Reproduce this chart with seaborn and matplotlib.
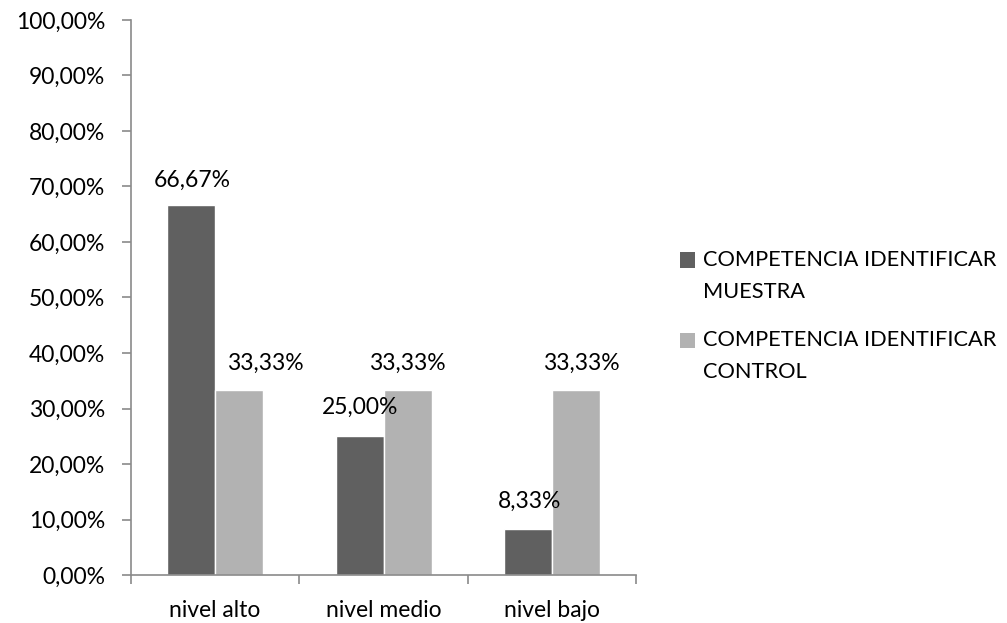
import matplotlib
matplotlib.use("Agg")
import matplotlib.pyplot as plt
import seaborn as sns
import pandas as pd
from matplotlib.patches import Rectangle
from matplotlib.ticker import FuncFormatter, FixedLocator

categories = ["nivel alto", "nivel medio", "nivel bajo"]
series_names = ["COMPETENCIA IDENTIFICAR\nMUESTRA", "COMPETENCIA IDENTIFICAR\nCONTROL"]
muestra = [66.67, 25.00, 8.33]
control = [33.33, 33.33, 33.33]
y_ticks = [0, 10, 20, 30, 40, 50, 60, 70, 80, 90, 100]

df = pd.DataFrame({
    "cat": categories * 2,
    "serie": [series_names[0]] * 3 + [series_names[1]] * 3,
    "val": muestra + control,
})

sns.set_theme(style="white")
plt.rcParams["font.family"] = ["Lato", "DejaVu Sans"]

FS = 16.5
W, H = 1007, 623
colors = ["#606060", "#b2b2b2"]
fig = plt.figure(figsize=(W / 100, H / 100), dpi=100)
ax = fig.add_axes([0.130, 0.077, 0.502, 0.891])

sns.barplot(data=df, x="cat", y="val", hue="serie", order=categories,
            hue_order=series_names, palette=colors, width=0.57, ax=ax,
            saturation=1, errorbar=None, legend=False)

ax.set_xlim(-0.5, 2.5)
ax.set_ylim(0, 100)
ax.set_xlabel("")
ax.set_ylabel("")

fmt = lambda v: ("%.2f" % v).replace(".", ",") + "%"
ax.yaxis.set_major_locator(FixedLocator(y_ticks))
ax.yaxis.set_major_formatter(FuncFormatter(lambda v, p: fmt(v)))

ax.xaxis.set_major_locator(FixedLocator([-0.5, 0.5, 1.5, 2.5]))
ax.xaxis.set_major_formatter(FuncFormatter(lambda v, p: ""))
ax.xaxis.set_minor_locator(FixedLocator([0, 1, 2]))
ax.xaxis.set_minor_formatter(FuncFormatter(lambda v, p: categories[int(round(v))]))

spine_c = "#8a8a8a"
for s in ["top", "right"]:
    ax.spines[s].set_visible(False)
for s in ["left", "bottom"]:
    ax.spines[s].set_color(spine_c)
    ax.spines[s].set_linewidth(1.2)

ax.tick_params(axis="y", which="major", direction="out", length=6.5, width=1.2,
               color=spine_c, left=True, labelsize=FS, labelcolor="black", pad=12)
ax.tick_params(axis="x", which="major", direction="out", length=6.5, width=1.2,
               color=spine_c, bottom=True)
ax.tick_params(axis="x", which="minor", length=0, labelsize=FS,
               labelcolor="black", pad=18)

# data labels (offsets in points, style only)
offsets = {
    (0, 0): (1, 18), (0, 1): (19, 19.5),
    (1, 0): (0, 20.5), (1, 1): (0, 19.5),
    (2, 0): (1, 19.5), (2, 1): (3.6, 19.5),
}
bw = 0.57 / 2
for si, vals in enumerate([muestra, control]):
    for ci, v in enumerate(vals):
        xc = ci - 0.57 / 2 + bw / 2 + si * bw
        dx, dy = offsets[(ci, si)]
        ax.annotate(fmt(v), xy=(xc, v), xytext=(dx, dy), textcoords="offset points",
                    ha="center", va="center", fontsize=FS, color="black")

# legend (square + two text lines per entry), positions in figure pixels
leg_x, sq = 680, 15
first_line_y = [260, 340]
line_gap = 32
for i, name in enumerate(series_names):
    yc = first_line_y[i]
    fig.patches.append(Rectangle(((leg_x) / W, (H - yc - sq / 2) / H), sq / W, sq / H,
                                 transform=fig.transFigure, facecolor=colors[i],
                                 edgecolor="none"))
    for j, line in enumerate(name.split("\n")):
        fig.text((leg_x + sq + 8) / W, (H - yc - j * line_gap) / H, line,
                 ha="left", va="center", fontsize=15.7, color="black")

fig.savefig("out.png", dpi=100)
